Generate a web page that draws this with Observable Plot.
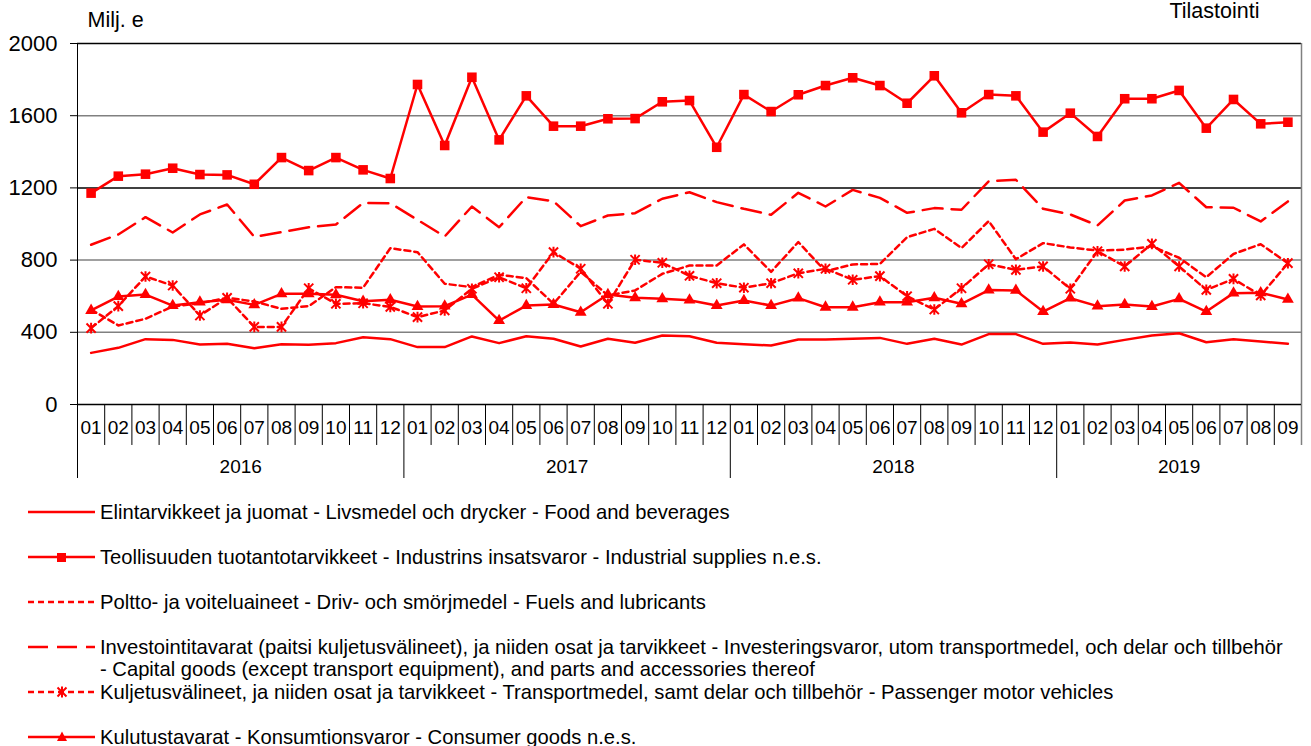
<!DOCTYPE html>
<html>
<head>
<meta charset="utf-8">
<script src="https://cdn.jsdelivr.net/npm/d3@7"></script>
<script src="https://cdn.jsdelivr.net/npm/@observablehq/plot@0.6"></script>
<style>
  html, body { margin: 0; padding: 0; background: #fff; }
  body { width: 1311px; height: 746px; overflow: hidden; font-family: "Liberation Sans", Arial, sans-serif; }
  #legend { margin-top: 10.75px; font-size: 20.2px; line-height: 22.5px; color: #000; }
  .item { display: flex; align-items: flex-start; margin-bottom: 22.5px; }
  .item.tight { margin-bottom: 0; }
  .item span { white-space: nowrap; }
  .item svg { margin-left: 28px; margin-right: 5px; flex: none; }
</style>
</head>
<body>
<div id="chart"></div>
<div id="legend"></div>
<script>
// ---- Data (2016-01 .. 2019-09) ----
const monthLabels = ["01","02","03","04","05","06","07","08","09","10","11","12",
  "01","02","03","04","05","06","07","08","09","10","11","12",
  "01","02","03","04","05","06","07","08","09","10","11","12",
  "01","02","03","04","05","06","07","08","09"];
const years = ["2016", "2017", "2018", "2019"];
const yearMonthCounts = [12, 12, 12, 9];
const yTicks = [0, 400, 800, 1200, 1600, 2000];

const food = [286, 314, 362, 358, 332, 336, 312, 334, 331, 340, 373, 362,
  318, 318, 377, 340, 378, 364, 321, 364, 342, 382, 378, 342,
  334, 327, 360, 360, 364, 369, 336, 364, 332, 390, 390, 336,
  343, 332, 358, 382, 395, 345, 362, 349, 336];
const industrial = [1171, 1265, 1276, 1309, 1274, 1272, 1220, 1368, 1296, 1368, 1300, 1252,
  1773, 1435, 1813, 1466, 1710, 1542, 1542, 1583, 1584, 1677, 1684, 1425,
  1717, 1623, 1716, 1767, 1810, 1767, 1669, 1821, 1616, 1717, 1710, 1509,
  1614, 1485, 1694, 1694, 1740, 1531, 1690, 1555, 1564];
const fuels = [526, 438, 475, 543, 561, 591, 571, 530, 545, 650, 647, 866,
  844, 669, 650, 719, 700, 558, 735, 604, 632, 724, 770, 770,
  887, 735, 900, 738, 776, 779, 927, 973, 867, 1016, 805, 894,
  870, 853, 858, 876, 813, 705, 834, 888, 783];
const capital = [885, 942, 1038, 953, 1053, 1108, 929, 955, 982, 997, 1117, 1115,
  1023, 931, 1097, 982, 1149, 1126, 988, 1047, 1060, 1140, 1176, 1121,
  1084, 1051, 1173, 1097, 1189, 1145, 1062, 1088, 1079, 1237, 1245, 1084,
  1053, 992, 1130, 1158, 1228, 1093, 1090, 1014, 1125];
const transport = [423, 545, 709, 659, 493, 591, 430, 430, 644, 558, 561, 541,
  484, 521, 641, 705, 644, 844, 752, 558, 802, 785, 713, 672,
  647, 672, 727, 752, 691, 711, 600, 526, 644, 777, 746, 765,
  641, 849, 765, 890, 765, 635, 696, 604, 783];
const consumer = [521, 598, 609, 548, 567, 580, 552, 613, 613, 608, 572, 580,
  543, 545, 609, 465, 548, 554, 511, 609, 591, 586, 578, 548,
  576, 548, 589, 539, 539, 567, 567, 591, 558, 634, 632, 515,
  589, 545, 554, 543, 585, 515, 617, 619, 582];

const seriesNames = [
  "Elintarvikkeet ja juomat - Livsmedel och drycker - Food and beverages",
  "Teollisuuden tuotantotarvikkeet - Industrins insatsvaror - Industrial supplies n.e.s.",
  "Poltto- ja voiteluaineet - Driv- och smörjmedel - Fuels and lubricants",
  "Investointitavarat (paitsi kuljetusvälineet), ja niiden osat ja tarvikkeet - Investeringsvaror, utom transportmedel, och delar och tillbehör<br>- Capital goods (except transport equipment), and parts and accessories thereof",
  "Kuljetusvälineet, ja niiden osat ja tarvikkeet - Transportmedel, samt delar och tillbehör - Passenger motor vehicles",
  "Kulutustavarat - Konsumtionsvaror - Consumer goods n.e.s."
];

// ---- derived helpers ----
const RED = "#ff0000";
const idx = monthLabels.map((d, i) => i);
const monthSeps = d3.range(1, monthLabels.length).map(i => i - 0.5);
let acc = 0;
const yearStarts = [], yearCenters = [];
yearMonthCounts.forEach(n => { yearStarts.push(acc - 0.5); yearCenters.push(acc + (n - 1) / 2); acc += n; });
const yearSeps = yearStarts;               // includes the left edge
const minorSeps = monthSeps.filter(s => !yearSeps.includes(s));

const asterisk = {
  draw(ctx, size) {
    const r = Math.sqrt(size / Math.PI);
    ctx.moveTo(-r, -r); ctx.lineTo(r, r);
    ctx.moveTo(-r, r); ctx.lineTo(r, -r);
    ctx.moveTo(0, -r * 1.15); ctx.lineTo(0, r * 1.15);
  }
};

const xy = {x: (d, i) => i, y: d => d};

const chart = Plot.plot({
  width: 1311,
  height: 490,
  marginTop: 43,
  marginBottom: 86,
  marginLeft: 77,
  marginRight: 10,
  x: {type: "linear", domain: [-0.5, monthLabels.length - 0.5], axis: null},
  y: {domain: [0, 2000], axis: null},
  style: {fontFamily: "'Liberation Sans', Arial, sans-serif", color: "#000", background: "#fff", overflow: "visible"},
  marks: [
    Plot.ruleY([400, 800, 1600], {stroke: "#808080", strokeWidth: 1.5}),
    Plot.ruleY([1200, 2000], {stroke: "#000", strokeWidth: 1.5}),
    Plot.axisY({ticks: yTicks, tickFormat: d => String(d), tickSize: 7, tickPadding: 13, fontSize: 22, label: null, stroke: "#000"}),
    // category axis separators
    Plot.ruleX(minorSeps, {y1: -227, y2: 0, stroke: "#000", strokeWidth: 1}),
    Plot.ruleX(yearSeps, {y1: -410, y2: yearSeps.map((d, i) => i === 0 ? 2000 : 0), stroke: "#000", strokeWidth: 1}),
    Plot.ruleX([monthLabels.length - 0.5], {y1: -227, y2: 2000, stroke: "#808080", strokeWidth: 1.5}),
    Plot.ruleY([0], {stroke: "#000", strokeWidth: 1.5}),
    Plot.text(idx, {x: d => d, text: d => monthLabels[d], frameAnchor: "bottom", lineAnchor: "middle", dy: 23, fontSize: 19}),
    Plot.text(years, {x: (d, i) => yearCenters[i], text: d => d, frameAnchor: "bottom", lineAnchor: "middle", dy: 62, fontSize: 19}),
    Plot.text(["Milj. e"], {frameAnchor: "top-left", lineAnchor: "middle", dx: 10, dy: -23, textAnchor: "start", fontSize: 21.5}),
    Plot.text(["Tilastointi"], {frameAnchor: "top-right", lineAnchor: "middle", dx: -42, dy: -32, textAnchor: "end", fontSize: 21.5}),
    // series
    Plot.line(food, {...xy, stroke: RED, strokeWidth: 2.5}),
    Plot.line(capital, {...xy, stroke: RED, strokeWidth: 2.5, strokeDasharray: "20,9"}),
    Plot.line(fuels, {...xy, stroke: RED, strokeWidth: 2.5, strokeDasharray: "6,4"}),
    Plot.line(transport, {...xy, stroke: RED, strokeWidth: 2.5, strokeDasharray: "6,4"}),
    Plot.dot(transport, {...xy, symbol: asterisk, r: 4.6, stroke: RED, strokeWidth: 2, fill: "none"}),
    Plot.line(consumer, {...xy, stroke: RED, strokeWidth: 2.5}),
    Plot.dot(consumer, {...xy, symbol: "triangle", r: 4.4, fill: RED, stroke: "none"}),
    Plot.line(industrial, {...xy, stroke: RED, strokeWidth: 2.5}),
    Plot.dot(industrial, {...xy, symbol: "square", r: 5.4, fill: RED, stroke: "none"})
  ]
});
document.getElementById("chart").append(chart);

// ---- legend ----
const samples = [
  `<line x1="0" y1="11" x2="67" y2="11" stroke="${RED}" stroke-width="2.5"/>`,
  `<line x1="0" y1="11" x2="67" y2="11" stroke="${RED}" stroke-width="2.5"/><rect x="29" y="7" width="9" height="9" fill="${RED}"/>`,
  `<line x1="0" y1="11" x2="67" y2="11" stroke="${RED}" stroke-width="2.5" stroke-dasharray="6,4"/>`,
  `<line x1="0" y1="11" x2="67" y2="11" stroke="${RED}" stroke-width="2.5" stroke-dasharray="20,9"/>`,
  `<line x1="0" y1="11" x2="67" y2="11" stroke="${RED}" stroke-width="2.5" stroke-dasharray="6,4"/><path d="M29.5,6.5L38.5,15.5M29.5,15.5L38.5,6.5M34,5.5L34,16.5" stroke="${RED}" stroke-width="2" fill="none"/>`,
  `<line x1="0" y1="11" x2="67" y2="11" stroke="${RED}" stroke-width="2.5"/><path d="M34,5.5L39,15L29,15Z" fill="${RED}"/>`
];
const legend = document.getElementById("legend");
seriesNames.forEach((name, i) => {
  const div = document.createElement("div");
  div.className = "item" + (i === 3 ? " tight" : "");
  div.innerHTML = `<svg width="67" height="22">${samples[i]}</svg><span>${name}</span>`;
  legend.append(div);
});
</script>
</body>
</html>
